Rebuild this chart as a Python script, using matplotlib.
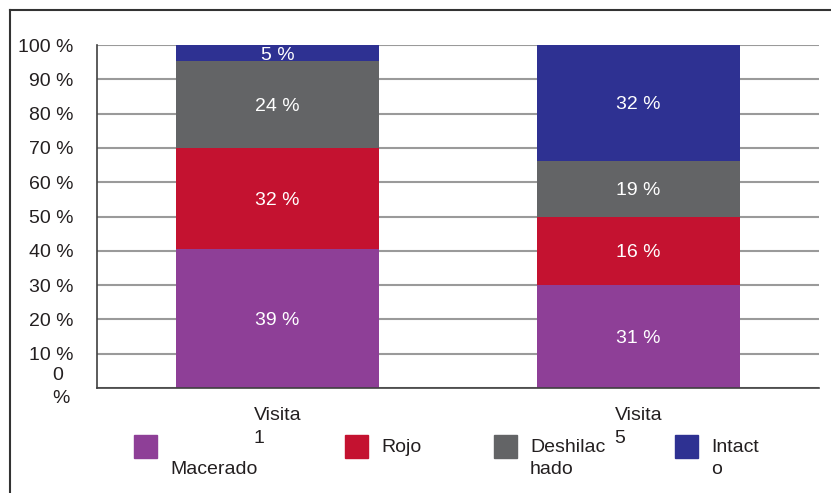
import matplotlib
matplotlib.use("Agg")
import matplotlib.pyplot as plt
from matplotlib.patches import Rectangle

plt.rcParams['font.family'] = ['Liberation Sans', 'DejaVu Sans']

categories = ["Visita\n1", "Visita\n5"]
series_names = ["Macerado", "Rojo", "Deshilachado", "Intacto"]
legend_labels = ["Macerado", "Rojo", "Deshilac\nhado", "Intact\no"]
colors = ["#8E3F97", "#C41230", "#636466", "#2E3192"]

# segment heights as drawn (share of 100 %)
macerado = [40.4, 30.0]
rojo = [29.6, 20.0]
deshilachado = [25.3, 16.2]
intacto = [4.7, 33.8]

# printed labels
macerado_lbl = ["39 %", "31 %"]
rojo_lbl = ["32 %", "16 %"]
deshilachado_lbl = ["24 %", "19 %"]
intacto_lbl = ["5 %", "32 %"]

yticks = [0, 10, 20, 30, 40, 50, 60, 70, 80, 90, 100]
ytick_labels = ["0\n%", "10 %", "20 %", "30 %", "40 %", "50 %", "60 %", "70 %", "80 %", "90 %", "100 %"]

W, H = 831, 493
fig = plt.figure(figsize=(W / 100, H / 100), dpi=100)
ax = fig.add_axes([97 / W, (H - 388) / H, (819 - 97) / W, (388 - 45) / H])

FS = 14
TXT = "#231F20"
x = range(len(categories))
heights = [macerado, rojo, deshilachado, intacto]
labels = [macerado_lbl, rojo_lbl, deshilachado_lbl, intacto_lbl]
bottom = [0, 0]
for vals, lbls, col, name in zip(heights, labels, colors, series_names):
    ax.bar(x, vals, bottom=bottom, width=0.56, color=col, label=name, zorder=2)
    for i, (v, l) in enumerate(zip(vals, lbls)):
        ax.text(i, bottom[i] + v / 2, l, ha="center", va="center_baseline", color="white",
                fontsize=FS, zorder=3, clip_on=True)
    bottom = [b + v for b, v in zip(bottom, vals)]

ax.set_xlim(-0.5, 1.5)
ax.set_ylim(0, 100)
ax.set_yticks(yticks)
ax.set_yticklabels(["" if "\n" in t else t for t in ytick_labels], fontsize=FS, color=TXT)
ax.tick_params(axis="y", length=0, pad=17)
# the wrapped "0 %" label sits apart from the others
fig.text(52 / W, (H - 387) / H, ytick_labels[0], fontsize=FS, color=TXT,
         ha="left", va="center", linespacing=1.45)
ax.set_xticks(list(x))
ax.set_xticklabels(categories, fontsize=FS, color=TXT, linespacing=1.45,
                   multialignment="left")
ax.tick_params(axis="x", length=0, pad=14)
ax.yaxis.grid(True, color="#9A9A9A", linewidth=1.5, zorder=0)
ax.set_axisbelow(True)
for s in ["top", "right"]:
    ax.spines[s].set_visible(False)
for s in ["left", "bottom"]:
    ax.spines[s].set_color("#404040")
    ax.spines[s].set_linewidth(1.2)

# manual legend
sq_x = [134, 345, 494, 675]
txt_pos = [(170, 470), (381, 447), (530, 458.5), (711, 458.5)]
for px, col, lab, (tx, ty) in zip(sq_x, colors, legend_labels, txt_pos):
    fig.patches.append(Rectangle((px / W, (H - 458) / H), 23 / W, 23 / H,
                                 transform=fig.transFigure, color=col))
    fig.text(tx / W, (H - ty) / H, lab, fontsize=FS, color=TXT,
             ha="left", va="center", linespacing=1.45)

# outer frame
fig.add_artist(plt.Line2D([10 / W, 1], [(H - 10) / H] * 2, transform=fig.transFigure,
                          color="#333333", linewidth=1.5))
fig.add_artist(plt.Line2D([10 / W] * 2, [0, (H - 10) / H], transform=fig.transFigure,
                          color="#333333", linewidth=1.5))

fig.savefig("out.png", dpi=100)
